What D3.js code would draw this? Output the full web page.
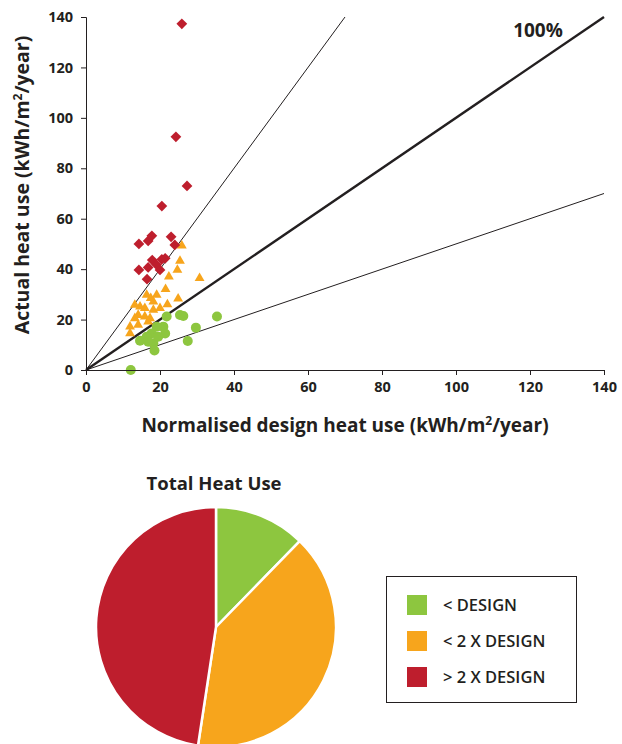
<!DOCTYPE html>
<html>
<head>
<meta charset="utf-8">
<script src="https://cdn.jsdelivr.net/npm/d3@7"></script>
<style>
  body { margin: 0; background: #fff; }
  svg { display: block; font-family: "Open Sans", sans-serif; }
</style>
</head>
<body>
<div id="chart"></div>
<script>
// buildings above twice the design heat use
const redX = [25.9, 24.3, 27.3, 20.5, 14.3, 16.8, 17.8, 23.0, 24.0, 14.3, 16.5, 17.9, 20.5, 21.4, 19.1, 16.8, 20.0];
const redY = [137.3, 92.5, 73.0, 65.0, 50.0, 51.2, 53.2, 52.8, 49.6, 39.7, 36.0, 43.6, 43.9, 44.3, 41.7, 40.7, 39.7];
// buildings between design and twice design
const orangeX = [25.9, 25.4, 24.7, 22.4, 30.7, 21.5, 16.4, 19.1, 24.9, 18.2, 22.0, 14.6, 15.9, 18.2, 13.2, 14.1, 15.9, 17.3, 13.2, 11.9, 14.1, 16.8, 11.9, 20.0, 17.5];
const orangeY = [49.3, 43.3, 39.7, 37.0, 36.4, 32.1, 29.8, 29.8, 28.3, 27.1, 26.0, 25.1, 24.5, 23.8, 25.8, 21.8, 21.2, 20.5, 20.5, 17.2, 17.9, 19.2, 14.5, 24.5, 28.5];
// buildings below design heat use
const greenX = [12.1, 35.4, 29.7, 27.5, 25.4, 26.3, 21.8, 20.9, 21.4, 19.1, 17.7, 16.4, 14.6, 18.2, 18.5, 16.8, 19.5];
const greenY = [0.0, 21.2, 16.8, 11.5, 21.8, 21.4, 21.2, 17.2, 14.5, 17.2, 14.5, 13.2, 11.6, 10.6, 7.7, 11.2, 13.2];

const ratioLines = [2, 1, 0.5]; // actual / design
const xTicks = [0, 20, 40, 60, 80, 100, 120, 140];
const yTicks = [0, 20, 40, 60, 80, 100, 120, 140];

const pieLabels = ["< DESIGN", "< 2 X DESIGN", "> 2 X DESIGN"];
const pieValues = [12.3, 40.1, 47.6];
const colors = ["#8dc63f", "#f7a51c", "#be1e2d"];

const width = 622, height = 744;
const ink = "#231f20";

const svg = d3.select("#chart").append("svg")
    .attr("width", width)
    .attr("height", height);

// scatter
const x = d3.scaleLinear().domain([0, 140]).range([86, 604]);
const y = d3.scaleLinear().domain([0, 140]).range([370, 17]);

const plot = svg.append("g");

// reference lines
plot.append("g")
    .selectAll("line")
    .data(ratioLines)
    .join("line")
    .attr("x1", x(0))
    .attr("y1", y(0))
    .attr("x2", r => x(Math.min(140, 140 / r)))
    .attr("y2", r => y(Math.min(140, 140 * r)))
    .attr("stroke", ink)
    .attr("stroke-width", r => r === 1 ? 2.4 : 1);

svg.append("text")
    .attr("x", 538)
    .attr("y", 37)
    .attr("text-anchor", "middle")
    .attr("font-size", 19)
    .attr("font-weight", 700)
    .attr("fill", ink)
    .text("100%");

const greenPts = greenX.map((v, i) => [v, greenY[i]]);
const orangePts = orangeX.map((v, i) => [v, orangeY[i]]);
const redPts = redX.map((v, i) => [v, redY[i]]);

plot.append("g")
    .selectAll("circle")
    .data(greenPts)
    .join("circle")
    .attr("cx", d => x(d[0]))
    .attr("cy", d => y(d[1]))
    .attr("r", 5)
    .attr("fill", colors[0]);

plot.append("g")
    .selectAll("path")
    .data(orangePts)
    .join("path")
    .attr("d", d3.symbol(d3.symbolTriangle, 42))
    .attr("transform", d => `translate(${x(d[0])},${y(d[1])})`)
    .attr("fill", colors[1]);

plot.append("g")
    .selectAll("path")
    .data(redPts)
    .join("path")
    .attr("d", d3.symbol(d3.symbolSquare, 58))
    .attr("transform", d => `translate(${x(d[0])},${y(d[1])}) rotate(45)`)
    .attr("fill", colors[2]);

// axes
const xAxis = svg.append("g")
    .attr("transform", `translate(0,${y(0)})`)
    .call(d3.axisBottom(x).tickValues(xTicks).tickSize(5).tickSizeOuter(5));
const yAxis = svg.append("g")
    .attr("transform", `translate(${x(0)},0)`)
    .call(d3.axisLeft(y).tickValues(yTicks).tickSize(5).tickSizeOuter(5));

[xAxis, yAxis].forEach(a => {
    a.select(".domain").attr("stroke", ink);
    a.selectAll(".tick line").attr("stroke", ink);
    a.selectAll(".tick text")
        .attr("fill", ink)
        .attr("font-size", 14.5)
        .attr("font-weight", 700)
        .attr("font-family", "Open Sans, sans-serif");
});
xAxis.selectAll(".tick text").attr("dy", "0.95em");
yAxis.selectAll(".tick text").attr("x", -13);

svg.append("text")
    .attr("x", 345)
    .attr("y", 432)
    .attr("text-anchor", "middle")
    .attr("font-size", 19)
    .attr("font-weight", 700)
    .attr("fill", ink)
    .html('Normalised design heat use (kWh/m<tspan font-size="12" dy="-7">2</tspan><tspan dy="7">/year)</tspan>');

svg.append("text")
    .attr("transform", "translate(29,185) rotate(-90)")
    .attr("text-anchor", "middle")
    .attr("font-size", 19.5)
    .attr("font-weight", 700)
    .attr("fill", ink)
    .html('Actual heat use (kWh/m<tspan font-size="12" dy="-7">2</tspan><tspan dy="7">/year)</tspan>');

// pie
const pieG = svg.append("g").attr("transform", "translate(216,627)");
const arcs = d3.pie().sort(null)(pieValues);
const arc = d3.arc().innerRadius(0).outerRadius(120);

pieG.selectAll("path")
    .data(arcs)
    .join("path")
    .attr("d", arc)
    .attr("fill", (d, i) => colors[i])
    .attr("stroke", "#fff")
    .attr("stroke-width", 2.5);

svg.append("text")
    .attr("x", 214)
    .attr("y", 490)
    .attr("text-anchor", "middle")
    .attr("font-size", 18.5)
    .attr("font-weight", 700)
    .attr("fill", ink)
    .text("Total Heat Use");

// legend
const legend = svg.append("g");
legend.append("rect")
    .attr("x", 386.5)
    .attr("y", 576.5)
    .attr("width", 190)
    .attr("height", 126)
    .attr("fill", "none")
    .attr("stroke", ink)
    .attr("stroke-width", 1);

const item = legend.selectAll("g")
    .data(pieLabels)
    .join("g")
    .attr("transform", (d, i) => `translate(407,${595 + i * 36})`);
item.append("rect")
    .attr("width", 20)
    .attr("height", 20)
    .attr("fill", (d, i) => colors[i]);
item.append("text")
    .attr("x", 36)
    .attr("y", 10)
    .attr("dy", "0.36em")
    .attr("font-size", 16.5)
    .attr("font-weight", 600)
    .attr("fill", ink)
    .text(d => d);
</script>
</body>
</html>
